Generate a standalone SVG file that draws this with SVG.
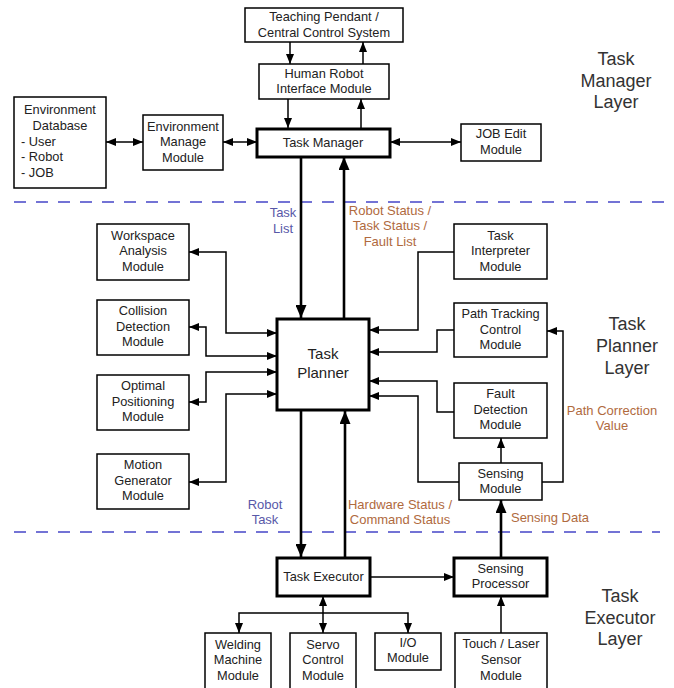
<svg xmlns="http://www.w3.org/2000/svg" width="674" height="688" viewBox="0 0 674 688">
<style>
.box{fill:#fff;stroke:#000;stroke-width:1.5}
.tbox{fill:#fff;stroke:#000;stroke-width:3}
text{font-family:"Liberation Sans",Arial,sans-serif;font-size:12.8px;fill:#222;text-anchor:middle}
.big{font-size:15px}
.layer{font-size:18px;fill:#333}
.blue{fill:#5858a8;font-size:13px}
.brown{fill:#b06a3e;font-size:13px}
.c{fill:none;stroke:#000;stroke-width:1.5}
.ct{fill:none;stroke:#000;stroke-width:2.6}
.dash{stroke:#4646c8;stroke-width:1.5;stroke-dasharray:12 10}
</style>
<defs>
<marker id="a" markerWidth="10" markerHeight="8" refX="10" refY="4" orient="auto-start-reverse" markerUnits="userSpaceOnUse"><path d="M0,0L10,4L0,8z" fill="#000"/></marker>
<marker id="A" markerWidth="13" markerHeight="11" refX="13" refY="5.5" orient="auto-start-reverse" markerUnits="userSpaceOnUse"><path d="M0,0L13,5.5L0,11z" fill="#000"/></marker>
</defs>

<g id="layers">
<line class="dash" x1="14" y1="202" x2="665" y2="202"/>
<line class="dash" x1="14" y1="532" x2="660" y2="532"/>
<text class="layer" x="616" y="65">Task</text>
<text class="layer" x="616" y="87">Manager</text>
<text class="layer" x="616" y="108">Layer</text>
<text class="layer" x="627" y="330">Task</text>
<text class="layer" x="627" y="352">Planner</text>
<text class="layer" x="627" y="374">Layer</text>
<text class="layer" x="620" y="602">Task</text>
<text class="layer" x="620" y="624">Executor</text>
<text class="layer" x="620" y="645">Layer</text>
</g>

<g id="connectors">
<path class="c" d="M290,42V64" marker-end="url(#a)"/>
<path class="c" d="M363,64V42" marker-end="url(#a)"/>
<path class="c" d="M288,99V128" marker-end="url(#a)"/>
<path class="c" d="M361,128V99" marker-end="url(#a)"/>
<path class="c" d="M106,142H143" marker-start="url(#a)" marker-end="url(#a)"/>
<path class="c" d="M223,142H257" marker-start="url(#a)" marker-end="url(#a)"/>
<path class="c" d="M390,142H461" marker-start="url(#a)" marker-end="url(#a)"/>
<path class="ct" d="M301,157V318" marker-end="url(#A)"/>
<path class="ct" d="M344,318V157" marker-end="url(#A)"/>
<path class="ct" d="M301,411V557" marker-end="url(#A)"/>
<path class="ct" d="M345,557V411" marker-end="url(#A)"/>
<path class="ct" d="M501,557V500" marker-end="url(#A)"/>
<path class="c" d="M189,252H226V333H277" marker-start="url(#a)" marker-end="url(#a)"/>
<path class="c" d="M189,327H206V356H277" marker-start="url(#a)" marker-end="url(#a)"/>
<path class="c" d="M189,402H206V372H277" marker-start="url(#a)" marker-end="url(#a)"/>
<path class="c" d="M189,482H226V394H277" marker-start="url(#a)" marker-end="url(#a)"/>
<path class="c" d="M454,252H418V330H369" marker-end="url(#a)"/>
<path class="c" d="M454,330H437V352H369" marker-end="url(#a)"/>
<path class="c" d="M454,412H437V381H369" marker-end="url(#a)"/>
<path class="c" d="M459,482H418V396H369" marker-end="url(#a)"/>
<path class="c" d="M542,482H563V331H547" marker-end="url(#a)"/>
<path class="c" d="M501,463V438" marker-end="url(#a)"/>
<path class="c" d="M370,577H454" marker-end="url(#a)"/>
<path class="c" d="M239,633V613H408V633" marker-start="url(#a)" marker-end="url(#a)"/>
<path class="c" d="M323,596V633" marker-start="url(#a)" marker-end="url(#a)"/>
<path class="c" d="M501,633V596" marker-end="url(#a)"/>
<text class="blue" x="283" y="217">Task</text>
<text class="blue" x="283" y="233">List</text>
<text class="brown" x="390" y="215">Robot Status /</text>
<text class="brown" x="390" y="230">Task Status /</text>
<text class="brown" x="390" y="246">Fault List</text>
<text class="blue" x="265" y="509">Robot</text>
<text class="blue" x="265" y="524">Task</text>
<text class="brown" x="400" y="509">Hardware Status /</text>
<text class="brown" x="400" y="524">Command Status</text>
<text class="brown" x="550" y="522">Sensing Data</text>
<text class="brown" x="612" y="415">Path Correction</text>
<text class="brown" x="612" y="430">Value</text>
</g>

<g id="teaching-pendant"><rect class="box" x="245" y="8" width="158" height="34"/><text x="324" y="21">Teaching Pendant /</text><text x="324" y="37">Central Control System</text></g>
<g id="hri"><rect class="box" x="259" y="64" width="130" height="35"/><text x="324" y="78">Human Robot</text><text x="324" y="93">Interface Module</text></g>
<g id="env-db"><rect class="box" x="14" y="97" width="92" height="91"/><text x="60" y="114">Environment</text><text x="60" y="130">Database</text><text x="21" y="146" style="text-anchor:start">- User</text><text x="21" y="161" style="text-anchor:start">- Robot</text><text x="21" y="177" style="text-anchor:start">- JOB</text></g>
<g id="env-manage"><rect class="box" x="143" y="115" width="80" height="55"/><text x="183" y="131">Environment</text><text x="183" y="146">Manage</text><text x="183" y="162">Module</text></g>
<g id="task-manager"><rect class="tbox" x="257" y="129" width="133" height="28"/><text x="323" y="147">Task Manager</text></g>
<g id="job-edit"><rect class="box" x="461" y="124" width="80" height="37"/><text x="501" y="138">JOB Edit</text><text x="501" y="154">Module</text></g>

<g id="workspace"><rect class="box" x="97" y="224" width="92" height="56"/><text x="143" y="240">Workspace</text><text x="143" y="255">Analysis</text><text x="143" y="271">Module</text></g>
<g id="collision"><rect class="box" x="97" y="300" width="92" height="55"/><text x="143" y="315">Collision</text><text x="143" y="331">Detection</text><text x="143" y="346">Module</text></g>
<g id="optimal"><rect class="box" x="97" y="375" width="92" height="55"/><text x="143" y="390">Optimal</text><text x="143" y="406">Positioning</text><text x="143" y="421">Module</text></g>
<g id="motion"><rect class="box" x="97" y="454" width="92" height="55"/><text x="143" y="469">Motion</text><text x="143" y="485">Generator</text><text x="143" y="500">Module</text></g>
<g id="task-planner"><rect class="tbox" x="277" y="319" width="92" height="91"/><text class="big" x="323" y="359">Task</text><text class="big" x="323" y="378">Planner</text></g>
<g id="task-interpreter"><rect class="box" x="454" y="224" width="93" height="55"/><text x="500.5" y="240">Task</text><text x="500.5" y="255">Interpreter</text><text x="500.5" y="271">Module</text></g>
<g id="path-tracking"><rect class="box" x="454" y="303" width="93" height="54"/><text x="500.5" y="318">Path Tracking</text><text x="500.5" y="334">Control</text><text x="500.5" y="349">Module</text></g>
<g id="fault-detection"><rect class="box" x="454" y="383" width="93" height="55"/><text x="500.5" y="398">Fault</text><text x="500.5" y="414">Detection</text><text x="500.5" y="429">Module</text></g>
<g id="sensing-module"><rect class="box" x="459" y="463" width="83" height="37"/><text x="500.5" y="478">Sensing</text><text x="500.5" y="493">Module</text></g>

<g id="task-executor"><rect class="tbox" x="277" y="558" width="93" height="38"/><text x="323.5" y="581">Task Executor</text></g>
<g id="sensing-processor"><rect class="tbox" x="454" y="558" width="93" height="38"/><text x="500.5" y="573">Sensing</text><text x="500.5" y="588">Processor</text></g>
<g id="welding"><rect class="box" x="205" y="633" width="66" height="62"/><text x="238" y="649">Welding</text><text x="238" y="664">Machine</text><text x="238" y="680">Module</text></g>
<g id="servo"><rect class="box" x="290" y="633" width="66" height="62"/><text x="323" y="649">Servo</text><text x="323" y="664">Control</text><text x="323" y="680">Module</text></g>
<g id="io"><rect class="box" x="375" y="633" width="66" height="37"/><text x="408" y="647">I/O</text><text x="408" y="662">Module</text></g>
<g id="touch-laser"><rect class="box" x="455" y="633" width="92" height="62"/><text x="501" y="648">Touch / Laser</text><text x="501" y="664">Sensor</text><text x="501" y="680">Module</text></g>
</svg>
